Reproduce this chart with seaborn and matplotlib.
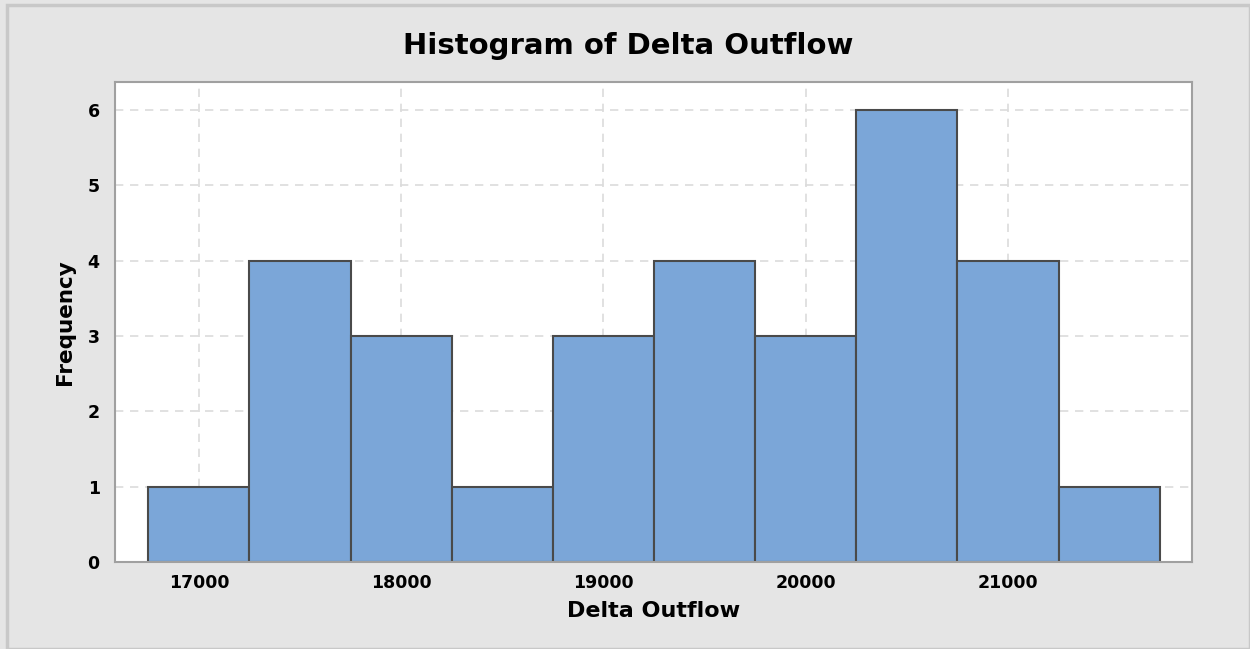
import matplotlib
matplotlib.use("Agg")
import matplotlib.pyplot as plt
import seaborn as sns
import pandas as pd
from matplotlib.patches import Rectangle

# Data
bin_edges = [16750, 17250, 17750, 18250, 18750, 19250, 19750, 20250, 20750, 21250, 21750]
bin_centers = [17000, 17500, 18000, 18500, 19000, 19500, 20000, 20500, 21000, 21500]
counts = [1, 4, 3, 1, 3, 4, 3, 6, 4, 1]
x_ticks = [17000, 18000, 19000, 20000, 21000]
y_ticks = [0, 1, 2, 3, 4, 5, 6]

df = pd.DataFrame({"Delta Outflow": bin_centers, "count": counts})

sns.set_theme(style="white")
plt.rcParams['font.family'] = ['DejaVu Sans']
plt.rcParams['text.color'] = 'black'

fig = plt.figure(figsize=(12.5, 6.49), dpi=100)
fig.patch.set_facecolor("#e5e5e5")
ax = fig.add_axes([115/1250, 1-562/649, (1192-115)/1250, (562-82)/649])
ax.set_facecolor("white")

sns.histplot(data=df, x="Delta Outflow", weights="count", bins=bin_edges,
             color="#7ba6d8", edgecolor="#4a4a4a", linewidth=1.5, alpha=1.0, ax=ax)

ax.set_xlim(16585, 21910)
ax.set_ylim(0, 6.37)
ax.set_xticks(x_ticks)
ax.set_yticks(y_ticks)
ax.set_xticklabels([str(v) for v in x_ticks], fontsize=12.5, fontweight="bold")
ax.set_yticklabels([str(v) for v in y_ticks], fontsize=12.5, fontweight="bold")
ax.grid(True, color="#dcdcdc", linestyle=(0, (5, 4)), linewidth=1.2)
ax.set_axisbelow(True)
for s in ax.spines.values():
    s.set_color("#a0a0a0")
    s.set_linewidth(1.5)
ax.tick_params(axis="both", which="major", direction="out", length=5, width=1.2,
               color="#a0a0a0", labelcolor="black", pad=6)
ax.tick_params(axis="x", pad=4)

ax.set_xlabel("Delta Outflow", fontsize=16, fontweight="bold", labelpad=6, color="black")
ax.set_ylabel("Frequency", fontsize=15.5, fontweight="bold", labelpad=9, color="black")
fig.text(628/1250, 1-46/649, "Histogram of Delta Outflow", ha="center", va="center",
         fontsize=21, fontweight="bold", color="black")

fig.patches.append(Rectangle((7/1250, 0), 1-7/1250, 1-5/649, transform=fig.transFigure,
                             fill=False, edgecolor="#c8c8c8", linewidth=2.5))

fig.savefig("out.png", dpi=100, facecolor=fig.get_facecolor())
